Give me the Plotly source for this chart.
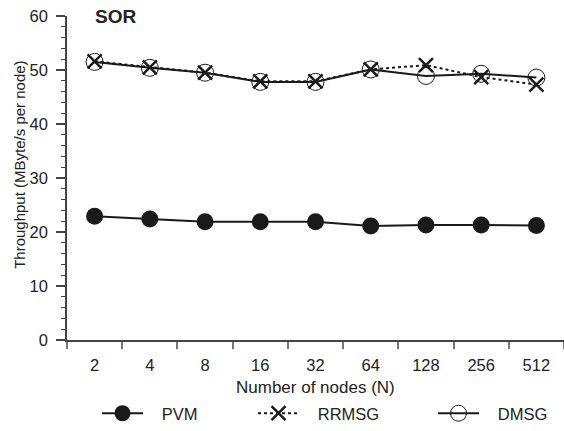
import plotly.graph_objects as go

nodes = ["2", "4", "8", "16", "32", "64", "128", "256", "512"]
pvm = [22.9, 22.4, 21.9, 21.9, 21.9, 21.1, 21.3, 21.3, 21.2]
rrmsg = [51.6, 50.5, 49.5, 47.9, 47.9, 50.1, 50.9, 48.7, 47.3]
dmsg = [51.5, 50.4, 49.5, 47.8, 47.8, 50.1, 48.9, 49.3, 48.6]

FONT = "Liberation Sans, Arial, sans-serif"
L, T, W, H = 67, 16, 497, 326.5
NB = "\u00a0\u00a0\u00a0"

def px2x(px):
    return (px - L) / W

def px2y(py):
    return (T + H - py) / H

fig = go.Figure()
fig.add_trace(go.Scatter(
    x=nodes, y=pvm, name=NB + "PVM", mode="lines+markers",
    line=dict(color="#1a1a1a", width=2),
    marker=dict(symbol="circle", size=17, color="#1a1a1a"),
    legend="legend"))
fig.add_trace(go.Scatter(
    x=nodes, y=rrmsg, name=NB + "RRMSG", mode="lines+markers",
    line=dict(color="#1a1a1a", width=2, dash="dot"),
    marker=dict(symbol="x-thin", size=14, line=dict(color="#1a1a1a", width=2.5)),
    legend="legend2"))
fig.add_trace(go.Scatter(
    x=nodes, y=dmsg, name=NB + "DMSG", mode="lines+markers",
    line=dict(color="#1a1a1a", width=2),
    marker=dict(symbol="circle-open", size=17, line=dict(color="#777777", width=1)),
    legend="legend3"))

legend_common = dict(orientation="h", yanchor="middle", xanchor="left",
                     font=dict(family=FONT, size=16.5, color="#222"),
                     itemwidth=41, bgcolor="rgba(0,0,0,0)")
ly = px2y(417)

fig.update_layout(
    width=564, height=431, showlegend=True,
    margin=dict(l=L, r=0, t=T, b=431 - T - H),
    paper_bgcolor="white", plot_bgcolor="white",
    font=dict(family=FONT, size=16.5, color="#222"),
    legend=dict(x=px2x(97), y=ly, **legend_common),
    legend2=dict(x=px2x(253), y=ly, **legend_common),
    legend3=dict(x=px2x(433), y=ly, **legend_common),
    xaxis=dict(
        type="category", range=[-0.5, 8.5],
        showline=True, linecolor="#444", linewidth=1.5,
        ticks="outside", tickson="boundaries", ticklen=7, tickcolor="#777", tickwidth=1.5,
        tickfont=dict(size=16.5), ticklabelstandoff=9,
        showgrid=False, zeroline=False,
    ),
    yaxis=dict(
        range=[0, 60], dtick=10, tick0=0,
        showline=True, linecolor="#444", linewidth=1.5,
        ticks="outside", ticklen=9, tickcolor="#444", tickwidth=1.5,
        minor=dict(dtick=2, ticks="outside", ticklen=4, tickcolor="#444", tickwidth=1.2),
        tickfont=dict(size=16.5), ticklabelstandoff=5,
        showgrid=False, zeroline=False,
    ),
    annotations=[
        dict(text="<b>SOR</b>", xref="paper", yref="paper",
             x=px2x(93), y=px2y(17), xanchor="left", yanchor="middle",
             showarrow=False, font=dict(family=FONT, size=19, color="#222")),
        dict(text="Number of nodes (N)", xref="paper", yref="paper",
             x=px2x(315), y=px2y(390), xanchor="center", yanchor="middle",
             showarrow=False, font=dict(family=FONT, size=17, color="#222")),
        dict(text="Throughput (MByte/s per node)", xref="paper", yref="paper",
             x=px2x(20), y=px2y(166), xanchor="center", yanchor="middle", textangle=-90,
             showarrow=False, font=dict(family=FONT, size=15, color="#222")),
    ],
)

fig.write_html("out.html")
